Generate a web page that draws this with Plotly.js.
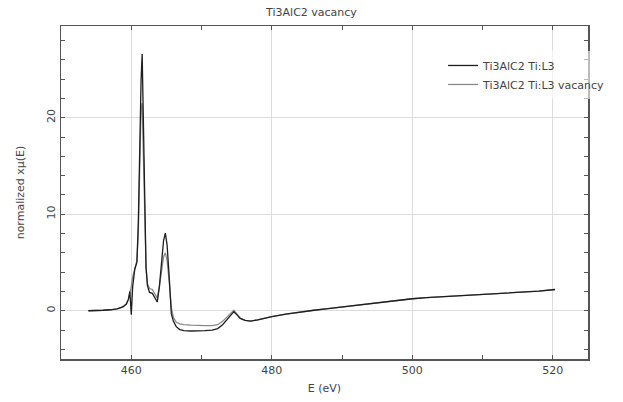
<!DOCTYPE html>
<html>
<head>
<meta charset="utf-8">
<script src="https://cdn.plot.ly/plotly-3.0.1.min.js"></script>
<style>html,body{margin:0;padding:0;background:#fff;}#chart{width:623px;height:402px;}</style>
</head>
<body>
<div id="chart"></div>
<script>
// Energy grid (eV)
const energy = [453.9, 455, 456, 457, 458, 458.8, 459.3, 459.6, 459.8, 460.0, 460.2, 460.5, 460.8, 461.0, 461.2, 461.4, 461.55, 461.7, 461.9, 462.1, 462.3, 462.6, 463.0, 463.4, 463.7, 464.0, 464.3, 464.6, 464.85, 465.1, 465.4, 465.7, 466.0, 466.4, 466.9, 467.5, 468.5, 469.5, 470.5, 471.5, 472.3, 473.0, 473.7, 474.2, 474.6, 475.0, 475.5, 476.2, 477.0, 478, 480, 482, 484, 486, 488, 490, 492, 494, 496, 498, 500, 502, 504, 506, 508, 510, 512, 514, 516, 518, 520.3];

// Ti3AlC2 Ti:L3
const muPristine = [0, 0.0, 0.05, 0.1, 0.2, 0.4, 0.7, 1.2, 2.0, -0.4, 2.5, 4.3, 5.0, 9, 18, 24, 26.6, 20, 10, 4.5, 2.6, 1.9, 1.8, 1.3, 0.9, 2.5, 5, 7.3, 8.05, 6.8, 3.5, -0.3, -1.1, -1.65, -1.95, -2.05, -2.1, -2.1, -2.05, -2.0, -1.85, -1.45, -0.85, -0.4, -0.1, -0.4, -0.8, -1.0, -1.07, -0.95, -0.6, -0.35, -0.13, 0.05, 0.22, 0.4, 0.58, 0.76, 0.92, 1.08, 1.24, 1.35, 1.43, 1.5, 1.57, 1.64, 1.73, 1.83, 1.92, 2.03, 2.2];

// Ti3AlC2 Ti:L3 vacancy
const muVacancy = [0, 0, 0.05, 0.1, 0.2, 0.4, 0.7, 1.2, 1.8, 2.5, 3.5, 4.5, 5.2, 8, 15, 21, 21.5, 17, 9, 4.5, 2.8, 2.3, 2.2, 1.6, 1.3, 2.5, 4.3, 5.6, 6.0, 5.2, 3.0, 0.3, -0.7, -1.2, -1.35, -1.45, -1.5, -1.55, -1.55, -1.55, -1.45, -1.1, -0.6, -0.2, 0.05, -0.3, -0.75, -1.0, -1.07, -0.95, -0.6, -0.35, -0.13, 0.05, 0.22, 0.4, 0.58, 0.76, 0.92, 1.08, 1.24, 1.35, 1.43, 1.5, 1.57, 1.64, 1.73, 1.83, 1.92, 2.03, 2.2];

const seriesNames = ["Ti3AlC2 Ti:L3", "Ti3AlC2 Ti:L3 vacancy"];
const xTickVals = [460, 480, 500, 520];
const yTickVals = [0, 10, 20];

const fontFam = "DejaVu Sans, sans-serif";

const traces = [
  {x: energy, y: muVacancy, name: seriesNames[1], mode: "lines",
   line: {color: "#8a8a8a", width: 1.3}, legendrank: 2},
  {x: energy, y: muPristine, name: seriesNames[0], mode: "lines",
   line: {color: "#1e1e1e", width: 1.3}, legendrank: 1}
];

const axisCommon = {
  showline: true, linecolor: "#555", linewidth: 1.5, mirror: "ticks",
  ticks: "inside", ticklen: 4, tickcolor: "#555", tickwidth: 1,
  showgrid: true, gridcolor: "#dcdcdc", gridwidth: 1, zeroline: false,
  tickfont: {family: fontFam, size: 11, color: "#444"}
};

const layout = {
  width: 623, height: 402,
  margin: {l: 61, r: 32, t: 26, b: 43},
  paper_bgcolor: "#fff", plot_bgcolor: "#fff",
  title: {text: "Ti3AlC2 vacancy", font: {family: fontFam, size: 11, color: "#444"},
          x: 0.5, xanchor: "center", y: 0.97, yanchor: "middle"},
  xaxis: Object.assign({}, axisCommon, {
    range: [450, 525], tickvals: xTickVals,
    minor: {dtick: 10, ticks: "inside", ticklen: 4, tickcolor: "#555", tickwidth: 1, showgrid: false},
    title: {text: "E (eV)", font: {family: fontFam, size: 11, color: "#444"}, standoff: 8}
  }),
  yaxis: Object.assign({}, axisCommon, {
    range: [-5, 29.5], tickvals: yTickVals, tickangle: -90,
    minor: {dtick: 2, ticks: "inside", ticklen: 4, tickcolor: "#555", tickwidth: 1, showgrid: false},
    title: {text: "normalized xμ(E)", font: {family: fontFam, size: 11, color: "#444"}, standoff: 18}
  }),
  showlegend: true,
  legend: {x: 0.725, y: 0.925, xanchor: "left", yanchor: "top",
           bgcolor: "rgba(255,255,255,0.6)", borderwidth: 0,
           font: {family: fontFam, size: 11, color: "#444"},
           traceorder: "normal"}
};

Plotly.newPlot("chart", traces, layout, {displayModeBar: false, staticPlot: true});
</script>
</body>
</html>
